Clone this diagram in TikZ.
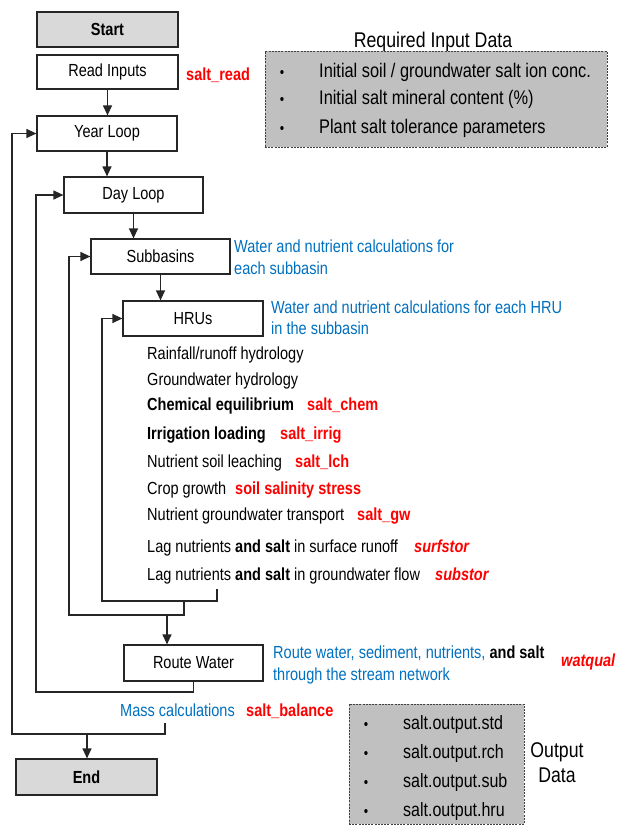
\documentclass[tikz,border=0pt]{standalone}
\usepackage{fontspec}
\setmainfont[FakeStretch=0.83]{Liberation Sans}
\usetikzlibrary{arrows.meta}
\definecolor{myblue}{RGB}{0,112,192}
\definecolor{myred}{RGB}{255,0,0}
\definecolor{boxgray}{RGB}{217,217,217}
\definecolor{datagray}{RGB}{192,192,192}
\begin{document}
\begin{tikzpicture}[x=1pt,y=-1pt,
  fs/.style={font=\fontsize{17.5}{21}\selectfont},
  procbox/.style={draw=black!85, line width=1.2pt, fill=white, minimum width=140pt, minimum height=35pt, inner sep=0pt, fs},
  termbox/.style={procbox, fill=boxgray, font=\fontsize{17.5}{21}\selectfont\bfseries},
  lbl/.style={anchor=base west, inner sep=0pt, fs},
  note/.style={lbl, text=myblue},
  redlbl/.style={lbl, text=myred, font=\fontsize{17.5}{21}\selectfont\bfseries},
  redit/.style={lbl, text=myred, font=\fontsize{17.5}{21}\selectfont\bfseries\itshape},
  arr/.style={draw=black!85, line width=1.2pt, -{Triangle[length=10pt,width=9pt]}},
  databox/.style={draw=black!75, dash pattern=on 2pt off 1.2pt, line width=1pt, fill=datagray, inner sep=0pt},
  bul/.style={anchor=base, inner sep=0pt, font=\fontsize{15}{18}\selectfont},
  dtxt/.style={anchor=base west, inner sep=0pt, font=\fontsize{19.7}{23}\selectfont},
  otxt/.style={anchor=base west, inner sep=0pt, font=\fontsize{19.3}{23}\selectfont},
  ttl/.style={anchor=base, inner sep=0pt, font=\fontsize{21.3}{25}\selectfont},
]
\useasboundingbox (0,0) rectangle (620,827);

% main boxes
\node[termbox, minimum width=141pt] (start) at (107.5,29.5) {Start};
\node[procbox, minimum width=141pt, minimum height=34pt] (read) at (107.5,72) {Read Inputs};
\node[procbox] (year) at (107,133.5) {Year Loop};
\node[procbox, minimum width=139pt, minimum height=36pt] (day) at (133.5,195) {Day Loop};
\node[procbox, minimum width=139pt] (sub) at (160.5,256.5) {Subbasins};
\node[procbox] (hru) at (193,318.5) {HRUs};
\node[procbox, minimum width=139pt, minimum height=36pt] (route) at (193.5,663) {Route Water};
\node[termbox, minimum width=141pt, minimum height=36pt] (end) at (86.5,777) {End};

% labels beside boxes
\node[redlbl] (saltread) at (186,80) {salt\_read};
\node[note] (subn1) at (234,252.5) {Water and nutrient calculations for};
\node[note] (subn2) at (234,274) {each subbasin};
\node[note] (hrun1) at (271,313) {Water and nutrient calculations for each HRU};
\node[note] (hrun2) at (271,334.5) {in the subbasin};

% HRU process list
\node[lbl] (it1) at (147,359.5) {Rainfall/runoff hydrology};
\node[lbl] (it2) at (147,385.5) {Groundwater hydrology};
\node[lbl, font=\fontsize{17.5}{21}\selectfont\bfseries] (it3) at (147,410.5) {Chemical equilibrium};
\node[redlbl] (r3) at (307,410.5) {salt\_chem};
\node[lbl, font=\fontsize{17.5}{21}\selectfont\bfseries] (it4) at (147,439.5) {Irrigation loading};
\node[redlbl] (r4) at (280,439.5) {salt\_irrig};
\node[lbl] (it5) at (147,467.5) {Nutrient soil leaching};
\node[redlbl] (r5) at (295,467.5) {salt\_lch};
\node[lbl] (it6) at (147,494.5) {Crop growth};
\node[redlbl] (r6) at (235,494.5) {soil salinity stress};
\node[lbl] (it7) at (147,520.5) {Nutrient groundwater transport};
\node[redlbl] (r7) at (357,520.5) {salt\_gw};
\node[lbl] (it8) at (147,552.5) {Lag nutrients \textbf{and salt} in surface runoff};
\node[redit] (r8) at (414,552) {surfstor};
\node[lbl] (it9) at (147,580.5) {Lag nutrients \textbf{and salt} in groundwater flow};
\node[redit] (r9) at (435,580.5) {substor};

% route / mass notes
\node[note] (rn1) at (273,658.5) {Route water, sediment, nutrients, \textcolor{black}{\textbf{and salt}}};
\node[note] (rn2) at (273,680) {through the stream network};
\node[redit] (watqual) at (561,666.5) {watqual};
\node[note] (mass) at (120,716.5) {Mass calculations};
\node[redlbl] (saltbal) at (246,716.5) {salt\_balance};

% connectors
\draw[arr] (read.south) -- (read.south |- year.north);
\draw[arr] (year.south) -- (year.south |- day.north);
\draw[arr] (day.south) -- (day.south |- sub.north);
\draw[arr] (sub.south) -- (sub.south |- hru.north);

\coordinate (hruend) at (217,589);
\coordinate (hrucorner) at (102,601);
\draw[arr] (hruend) |- (hrucorner) |- (hru.west);

\coordinate (subfrom) at (184,601);
\coordinate (subcorner) at (69,615);
\draw[arr] (subfrom) |- (subcorner) |- (sub.west);

\coordinate (routefrom) at (167,615);
\draw[arr] (routefrom) -- (routefrom |- route.north);

\coordinate (daycorner) at (36,692);
\draw[arr] (route.south) |- (daycorner) |- (day.west);

\coordinate (massend) at (165,723);
\coordinate (yearcorner) at (12,734);
\draw[arr] (massend) |- (yearcorner) |- (year.west);

\coordinate (endfrom) at (87,734);
\draw[arr] (endfrom) -- (endfrom |- end.north);

% required input data
\node[ttl] (intitle) at (433,47) {Required Input Data};
\node[databox, minimum width=342pt, minimum height=96pt] (inbox) at (436,99) {};
\node[bul] (inb1) at (282,77.5) {\textbullet};
\node[bul] (inb2) at (282,104.5) {\textbullet};
\node[bul] (inb3) at (282,133.5) {\textbullet};
\node[dtxt] (in1) at (319,77.5) {Initial soil / groundwater salt ion conc.};
\node[dtxt] (in2) at (319,104.5) {Initial salt mineral content (\%)};
\node[dtxt] (in3) at (319,133.5) {Plant salt tolerance parameters};

% output data
\node[databox, minimum width=175pt, minimum height=120pt] (outbox) at (436.5,764) {};
\node[bul] (ob1) at (366,729.5) {\textbullet};
\node[bul] (ob2) at (366,758.5) {\textbullet};
\node[bul] (ob3) at (366,787.5) {\textbullet};
\node[bul] (ob4) at (366,816.5) {\textbullet};
\node[otxt] (o1) at (403,729.5) {salt.output.std};
\node[otxt] (o2) at (403,758.5) {salt.output.rch};
\node[otxt] (o3) at (403,787.5) {salt.output.sub};
\node[otxt] (o4) at (403,816.5) {salt.output.hru};
\node[ttl] (outt1) at (557,757) {Output};
\node[ttl] (outt2) at (557,782) {Data};
\end{tikzpicture}
\end{document}
